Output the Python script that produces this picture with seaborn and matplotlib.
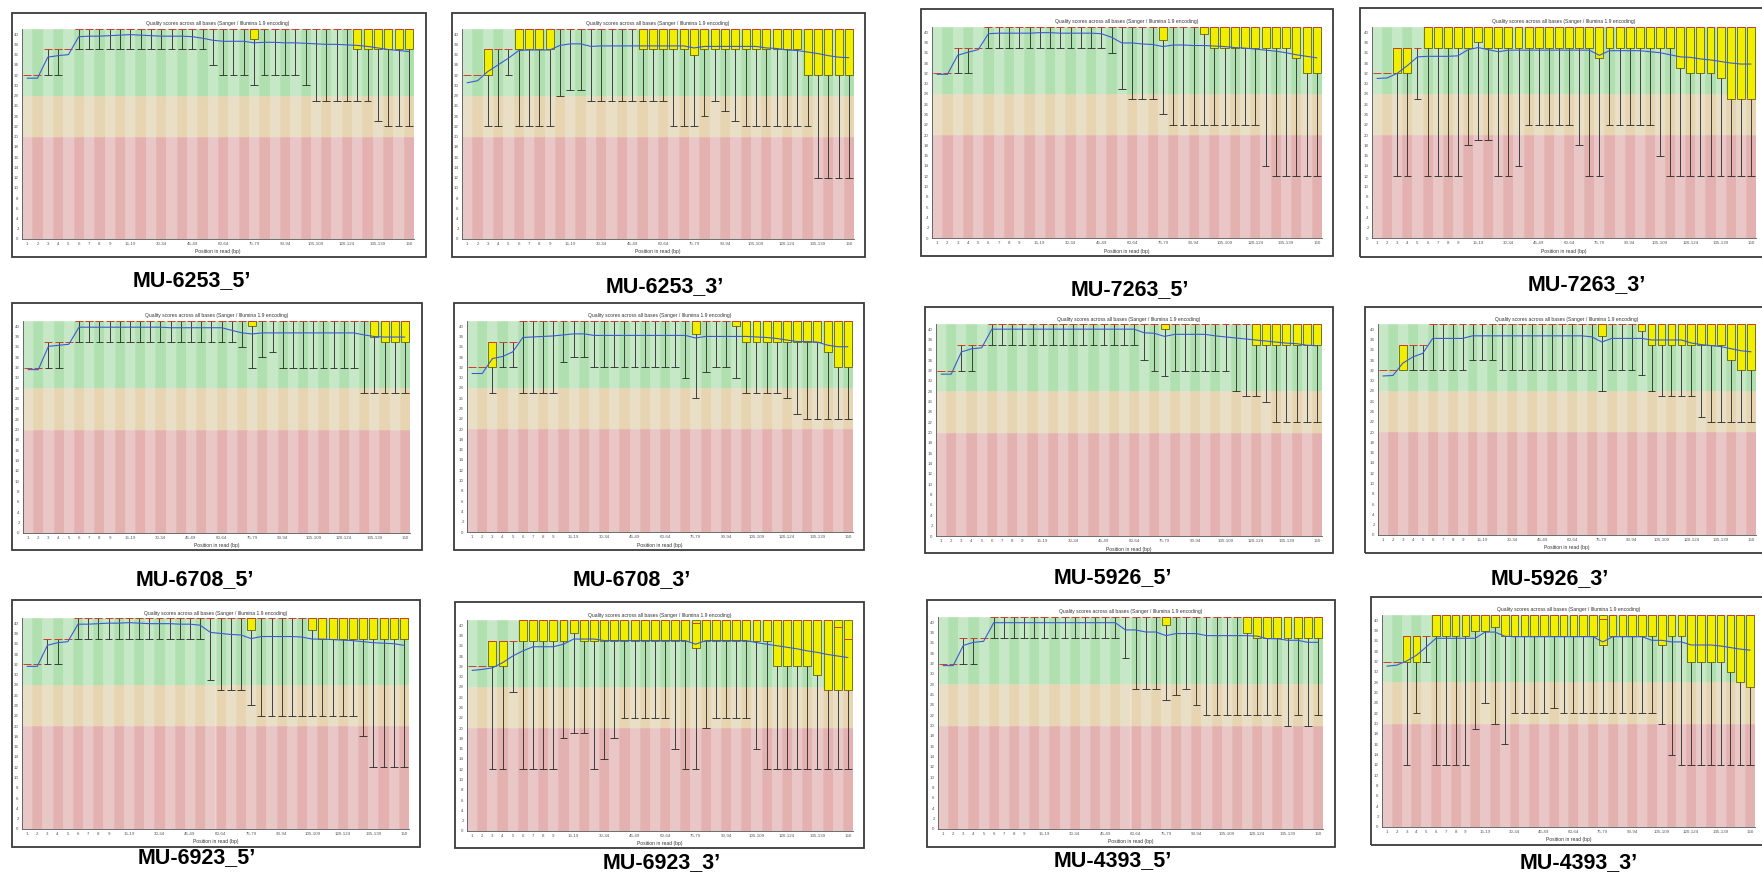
import matplotlib
matplotlib.use("Agg")
import matplotlib.pyplot as plt
from matplotlib.patches import Rectangle
import numpy as np
import seaborn as sns

# Position groups on the x axis (FastQC grouping for 150 bp reads)
positions = ["1", "2", "3", "4", "5", "6", "7", "8", "9",
             "10-14", "15-19", "20-24", "25-29", "30-34", "35-39", "40-44",
             "45-49", "50-54", "55-59", "60-64", "65-69", "70-74", "75-79",
             "80-84", "85-89", "90-94", "95-99", "100-104", "105-109",
             "110-114", "115-119", "120-124", "125-129", "130-134",
             "135-139", "140-144", "145-149", "150"]
tick_idx = [0, 1, 2, 3, 4, 5, 6, 7, 8, 10, 13, 16, 19, 22, 25, 28, 31, 34, 37]

# upper whisker / upper quartile (same in every sample)
top = [32, 32, 37, 37, 37] + [41] * 33

# MU-6253_5'
a_q1 = [32, 32, 37, 37, 37, 41, 41, 41, 41, 41, 41, 41, 41, 41, 41, 41, 41, 41,
        41, 41, 41, 41, 39, 41, 41, 41, 41, 41, 41, 41, 41, 41, 37, 37, 37, 37, 37, 37]
a_lo = [32, 32, 32, 32, 37, 37, 37, 37, 37, 37, 37, 37, 37, 37, 37, 37, 37, 37,
        34, 32, 32, 32, 30, 32, 32, 32, 32, 30, 27, 27, 27, 27, 27, 27, 23, 22, 22, 22]
a_mean = [31.4, 31.4, 35.5, 35.8, 36.0, 39.5, 39.6, 39.6, 39.7, 39.8, 39.9, 39.8, 39.7,
          39.6, 39.6, 39.6, 39.5, 39.2, 38.8, 38.6, 38.6, 38.6, 38.3, 38.4, 38.4, 38.3,
          38.3, 38.2, 38.1, 38.0, 38.0, 37.9, 37.8, 37.6, 37.3, 37.0, 36.8, 36.6]

# MU-6253_3'
b_q1 = [32, 32, 32, 37, 37, 37, 37, 37, 37, 41, 41, 41, 41, 41, 41, 41, 41, 37,
        37, 37, 37, 37, 36, 37, 37, 37, 37, 37, 37, 37, 37, 37, 37, 32, 32, 32, 32, 32]
b_lo = [32, 32, 22, 22, 32, 22, 22, 22, 22, 28, 29, 29, 27, 27, 27, 27, 27, 27,
        27, 27, 22, 22, 22, 24, 27, 25, 23, 22, 22, 22, 22, 22, 22, 22, 12, 12, 12, 12]
b_mean = [30.5, 30.9, 32.7, 34.0, 35.3, 36.8, 36.9, 36.9, 36.9, 37.8, 38.1, 38.1, 37.6,
          37.7, 37.7, 37.7, 37.7, 37.7, 37.7, 37.7, 37.7, 37.7, 37.3, 37.6, 37.6, 37.6,
          37.6, 37.6, 37.6, 37.3, 37.2, 36.9, 36.8, 36.5, 36.2, 35.8, 35.5, 35.4]

# MU-7263_5'
c_q1 = [32, 32, 37, 37, 37, 41, 41, 41, 41, 41, 41, 41, 41, 41, 41, 41, 41, 41,
        41, 41, 41, 41, 38.5, 41, 41, 41, 39.7, 37, 37, 37, 37, 37, 37, 37, 37, 35, 32, 32]
c_lo = [32, 32, 32, 32, 37, 37, 37, 37, 37, 37, 37, 37, 37, 37, 37, 37, 37, 36,
        29, 27, 27, 27, 24, 22, 22, 22, 22, 22, 22, 22, 22, 22, 14, 12, 12, 12, 12, 12]
c_mean = [31.8, 31.8, 35.5, 36.1, 36.6, 39.7, 39.8, 39.8, 39.8, 39.8, 39.9, 39.9, 39.8,
          39.8, 39.8, 39.8, 39.7, 39.0, 37.9, 37.9, 37.7, 37.6, 37.2, 37.5, 37.5, 37.4,
          37.4, 37.3, 37.2, 37.0, 36.9, 36.7, 36.5, 36.3, 36.0, 35.6, 35.3, 35.0]

# MU-7263_3'
d_q1 = [32, 32, 32, 32, 37, 37, 37, 37, 37, 37, 38, 37, 37, 37, 37, 37, 37, 37,
        37, 37, 37, 37, 35, 37, 37, 37, 37, 37, 37, 37, 33, 32, 32, 32, 31, 27, 27, 27]
d_lo = [32, 32, 12, 12, 27, 12, 12, 12, 12, 18, 19, 19, 12, 12, 14, 22, 22, 22,
        22, 22, 18, 12, 12, 22, 22, 22, 22, 22, 16, 12, 12, 12, 12, 12, 12, 12, 12, 12]
d_mean = [31.0, 31.1, 32.0, 33.5, 35.2, 35.3, 35.3, 35.3, 35.4, 36.6, 37.0, 36.6, 36.2,
          36.5, 36.5, 36.5, 36.5, 36.5, 36.5, 36.5, 36.5, 36.5, 35.5, 36.4, 36.4, 36.4,
          36.4, 36.2, 36.0, 35.6, 35.2, 35.1, 34.8, 34.6, 34.3, 34.0, 33.8, 33.8]

# MU-6708_5'
e_q1 = [32, 32, 37, 37, 37, 41, 41, 41, 41, 41, 41, 41, 41, 41, 41, 41, 41, 41,
        41, 41, 41, 41, 40, 41, 41, 41, 41, 41, 41, 41, 41, 41, 41, 41, 38, 37, 37, 37]
e_lo = [32, 32, 32, 32, 37, 37, 37, 37, 37, 37, 37, 37, 37, 37, 37, 37, 37, 37,
        37, 37, 37, 36, 32, 34, 35, 32, 32, 32, 32, 32, 32, 32, 32, 27, 27, 27, 27, 27]
e_mean = [31.6, 31.6, 36.1, 36.3, 36.5, 39.8, 39.8, 39.8, 39.8, 39.8, 39.8, 39.8, 39.8,
          39.8, 39.7, 39.7, 39.7, 39.7, 39.7, 39.7, 39.2, 38.7, 38.5, 38.7, 38.7, 38.7,
          38.7, 38.7, 38.7, 38.7, 38.7, 38.7, 38.7, 38.3, 38.0, 37.9, 37.9, 37.9]

# MU-6708_3'
f_q1 = [32, 32, 32, 37, 37, 41, 41, 41, 41, 41, 41, 41, 41, 41, 41, 41, 41, 41,
        41, 41, 41, 41, 38.5, 41, 41, 41, 40, 37, 37, 37, 37, 37, 37, 37, 37, 35, 32, 32]
f_lo = [32, 32, 27, 32, 32, 27, 27, 27, 27, 33, 34, 34, 32, 32, 32, 32, 32, 32,
        32, 32, 32, 30, 26, 31, 32, 32, 30, 27, 27, 27, 27, 26, 23, 22, 22, 22, 22, 22]
f_mean = [30.8, 30.8, 33.7, 34.1, 35.0, 37.8, 37.9, 38.0, 38.1, 38.3, 38.5, 38.5, 38.2,
          38.2, 38.2, 38.2, 38.2, 38.2, 38.2, 38.2, 38.2, 38.2, 37.7, 38.0, 38.0, 38.0,
          38.0, 38.0, 37.9, 37.8, 37.6, 37.3, 37.0, 37.0, 36.9, 36.3, 36.0, 36.0]

# MU-5926_5'
g_q1 = [32, 32, 37, 37, 37, 41, 41, 41, 41, 41, 41, 41, 41, 41, 41, 41, 41, 41,
        41, 41, 41, 41, 40, 41, 41, 41, 41, 41, 41, 41, 41, 37, 37, 37, 37, 37, 37, 37]
g_lo = [32, 32, 32, 32, 37, 37, 37, 37, 37, 37, 37, 37, 37, 37, 37, 37, 37, 37,
        37, 37, 34, 32, 31, 32, 32, 32, 32, 32, 32, 28, 27, 27, 26, 22, 22, 22, 22, 22]
g_mean = [31.3, 31.3, 35.6, 36.2, 36.4, 40.0, 40.0, 40.0, 40.0, 40.0, 40.0, 40.0, 40.0,
          40.0, 40.0, 40.0, 40.0, 40.0, 40.0, 40.0, 39.3, 39.2, 38.6, 39.0, 39.0, 39.0,
          39.0, 38.7, 38.5, 38.3, 38.1, 37.9, 37.7, 37.5, 37.3, 37.2, 36.9, 36.8]

# MU-5926_3'
h_q1 = [32, 32, 32, 37, 37, 41, 41, 41, 41, 41, 41, 41, 41, 41, 41, 41, 41, 41,
        41, 41, 41, 41, 38.6, 41, 41, 41, 39.6, 37, 37, 37, 37, 37, 37, 37, 37, 34, 32, 32]
h_lo = [32, 32, 32, 32, 32, 32, 32, 32, 32, 34, 34, 34, 32, 32, 32, 32, 32, 32,
        32, 32, 32, 32, 28, 32, 32, 32, 31, 28, 27, 27, 27, 27, 23, 22, 22, 22, 22, 22]
h_mean = [30.9, 31.0, 33.4, 34.6, 35.3, 38.2, 38.2, 38.2, 38.2, 38.7, 38.7, 38.7, 38.7,
          38.7, 38.7, 38.7, 38.7, 38.7, 38.7, 38.7, 38.7, 38.5, 37.5, 38.2, 38.2, 38.2,
          38.2, 37.9, 37.9, 37.9, 37.9, 37.3, 37.0, 36.8, 36.6, 36.2, 35.8, 35.6]

# MU-6923_5'
i_q1 = [32, 32, 37, 37, 37, 41, 41, 41, 41, 41, 41, 41, 41, 41, 41, 41, 41, 41,
        41, 41, 41, 41, 38.6, 41, 41, 41, 41, 41, 38.6, 37, 37, 37, 37, 37, 37, 37, 37, 37]
i_lo = [32, 32, 32, 32, 37, 37, 37, 37, 37, 37, 37, 37, 37, 37, 37, 37, 37, 37,
        29, 27, 27, 27, 24, 22, 22, 22, 22, 22, 22, 22, 22, 22, 22, 18, 12, 12, 12, 12]
i_mean = [31.6, 31.6, 35.7, 36.2, 36.4, 39.8, 39.8, 39.9, 40.0, 40.0, 40.1, 40.0, 39.9,
          39.9, 39.9, 39.8, 39.8, 39.6, 38.2, 38.0, 37.8, 37.7, 37.0, 37.4, 37.4, 37.4,
          37.4, 37.3, 36.9, 36.9, 36.8, 36.7, 36.6, 36.4, 36.2, 36.1, 36.0, 35.7]

# MU-6923_3'
j_q1 = [32, 32, 32, 32, 37, 37, 37, 37, 37, 37, 38.4, 37, 37, 37, 37, 37, 37, 37,
        37, 37, 37, 37, 35.5, 37, 37, 37, 37, 37, 37, 37, 32, 32, 32, 32, 30.4, 27.4, 27.4, 27.4]
j_lo = [32, 32, 12, 12, 27, 12, 12, 12, 12, 18, 19, 19, 12, 14, 18, 22, 22, 22,
        22, 22, 16, 12, 12, 20, 22, 22, 22, 22, 16, 12, 12, 12, 12, 12, 12, 12, 12, 12]
j_mean = [31.2, 31.4, 31.7, 32.7, 34.0, 35.0, 35.8, 35.8, 35.8, 36.3, 37.3, 37.3, 37.3,
          37.0, 37.0, 37.0, 37.0, 37.0, 37.0, 37.0, 37.0, 37.0, 36.3, 37.0, 37.0, 37.0,
          37.0, 37.0, 36.6, 36.3, 36.0, 35.7, 35.4, 35.0, 34.7, 34.3, 34.0, 33.7]
j_med = {22: 40.4, 36: 39.7, 37: 37.3}

# MU-4393_5'
k_q1 = [32, 32, 37, 37, 37, 41, 41, 41, 41, 41, 41, 41, 41, 41, 41, 41, 41, 41,
        41, 41, 41, 41, 39.5, 41, 41, 41, 41, 41, 41, 41, 38, 37, 37, 37, 37, 37, 37, 37]
k_lo = [32, 32, 32, 32, 37, 37, 37, 37, 37, 37, 37, 37, 37, 37, 37, 37, 37, 37,
        33, 27, 27, 27, 25, 26, 27, 24, 22, 22, 22, 22, 22, 22, 22, 22, 20, 22, 20, 22]
k_mean = [31.6, 31.6, 35.5, 36.1, 36.3, 39.9, 39.9, 39.9, 39.9, 39.9, 39.9, 39.9, 39.9,
          39.9, 39.9, 39.9, 39.9, 39.9, 38.5, 38.5, 38.1, 38.1, 37.4, 37.8, 37.8, 37.8,
          37.4, 37.4, 37.4, 37.4, 37.4, 37.3, 36.8, 36.8, 36.5, 36.5, 36.1, 36.1]

# MU-4393_3'
l_q1 = [32, 32, 32, 32, 37, 37, 37, 37, 37, 38, 38, 38.6, 37, 37, 37, 37, 37, 37,
        37, 37, 37, 37, 35.2, 37, 37, 37, 37, 37, 35.2, 37, 37, 32, 32, 32, 32, 30, 28, 27]
l_lo = [32, 32, 12, 22, 32, 12, 12, 12, 12, 19, 24, 20, 16, 22, 22, 22, 22, 23,
        22, 22, 22, 22, 22, 22, 22, 22, 22, 22, 20, 14, 12, 12, 12, 12, 12, 12, 12, 12]
l_mean = [31.1, 31.3, 32.1, 33.2, 34.8, 36.5, 36.5, 36.5, 36.5, 36.5, 37.7, 37.7, 36.9,
          36.8, 36.8, 36.8, 36.8, 36.8, 36.8, 36.8, 36.8, 36.8, 35.8, 36.8, 36.8, 36.8,
          36.8, 36.1, 36.1, 35.8, 35.8, 35.2, 35.2, 35.2, 35.0, 34.7, 34.4, 34.2]
l_med = {22: 40.3}

samples = ["MU-6253_5\u2019", "MU-6253_3\u2019", "MU-7263_5\u2019", "MU-7263_3\u2019",
           "MU-6708_5\u2019", "MU-6708_3\u2019", "MU-5926_5\u2019", "MU-5926_3\u2019",
           "MU-6923_5\u2019", "MU-6923_3\u2019", "MU-4393_5\u2019", "MU-4393_3\u2019"]

# layout in pixels: frame box, plot box (x0, y0, x1, y1) and sample label centre
layout = [
    ((12, 13, 426, 257), (22, 29, 414, 239), (192, 281)),
    ((452, 13, 865, 257), (462, 29, 854, 239), (665, 287)),
    ((921, 9, 1333, 256), (932, 27, 1322, 238), (1130, 290)),
    ((1360, 8, 1774, 257), (1372, 27, 1756, 238), (1587, 285)),
    ((12, 303, 422, 550), (23, 321, 410, 533), (195, 580)),
    ((454, 303, 864, 550), (467, 321, 853, 532), (632, 580)),
    ((925, 307, 1333, 553), (936, 324, 1322, 536), (1113, 578)),
    ((1365, 307, 1779, 553), (1378, 324, 1756, 535), (1550, 579)),
    ((12, 600, 420, 847), (22, 618, 409, 829), (197, 858)),
    ((455, 602, 864, 848), (467, 620, 853, 831), (662, 863)),
    ((927, 600, 1335, 847), (938, 617, 1323, 829), (1113, 861)),
    ((1371, 597, 1785, 845), (1382, 615, 1755, 827), (1579, 863)),
]

data = [
    (a_q1, a_lo, a_mean, {}), (b_q1, b_lo, b_mean, {}),
    (c_q1, c_lo, c_mean, {}), (d_q1, d_lo, d_mean, {}),
    (e_q1, e_lo, e_mean, {}), (f_q1, f_lo, f_mean, {}),
    (g_q1, g_lo, g_mean, {}), (h_q1, h_lo, h_mean, {}),
    (i_q1, i_lo, i_mean, {}), (j_q1, j_lo, j_mean, j_med),
    (k_q1, k_lo, k_mean, {}), (l_q1, l_lo, l_mean, l_med),
]

W, H = 1762, 876
sns.set_style("white")
plt.rcParams['font.family'] = ['Liberation Sans', 'DejaVu Sans']

fig = plt.figure(figsize=(W / 100, H / 100), dpi=100)
fig.patch.set_facecolor("white")

bands = [(28, 41, "#c6e8c6", "#b0dfb0"),
         (20, 28, "#e9dfc6", "#e6d5b0"),
         (0, 20, "#e9c7c7", "#e4b1b1")]

x = np.arange(len(positions))


def fx(px):
    return px / W


def fy(py):
    return 1 - py / H


for (q1, lo, mean, med_fix), ((bx0, by0, bx1, by1), (px0, py0, px1, py1), (lx, ly)), name in zip(data, layout, samples):
    # outer frame of the FastQC image
    fig.add_artist(Rectangle((fx(bx0), fy(by1)), fx(bx1 - bx0), (by1 - by0) / H,
                             transform=fig.transFigure, fill=False,
                             edgecolor="#3a3a3a", linewidth=1.3))

    ax = fig.add_axes([fx(px0), fy(py1), fx(px1 - px0), (py1 - py0) / H])

    # striped quality bands
    for b0, b1, c_light, c_dark in bands:
        cols = [c_light if i % 2 == 0 else c_dark for i in x]
        ax.bar(x, b1 - b0, bottom=b0, width=1.0, color=cols, edgecolor=cols,
               linewidth=0.4, zorder=0)

    q1 = np.array(q1, dtype=float)
    lo = np.array(lo, dtype=float)
    hi = np.array(top, dtype=float)
    med = hi.copy()
    for k, v in med_fix.items():
        med[k] = v

    # whiskers (10th - 90th percentile)
    ax.vlines(x, lo, hi, color="#262626", linewidth=0.6, zorder=2)
    has_wh = lo < q1
    ax.hlines(lo[has_wh], x[has_wh] - 0.38, x[has_wh] + 0.38, color="#262626",
              linewidth=0.6, zorder=2)

    # inter-quartile boxes
    box = q1 < hi
    ax.bar(x[box], hi[box] - q1[box], bottom=q1[box], width=0.78, color="#f2ee00",
           edgecolor="#4a4a00", linewidth=0.5, zorder=3)

    # medians
    ax.hlines(med, x - 0.39, x + 0.39, color="#d23a2a", linewidth=0.7, zorder=4)

    # mean line
    sns.lineplot(x=x, y=mean, ax=ax, color="#3b5bd6", linewidth=0.8, zorder=5)

    ax.set_xlim(-0.5, len(positions) - 0.5)
    ax.set_ylim(0, 41)
    ax.set_yticks(range(0, 41, 2))
    ax.set_yticklabels([str(v) for v in range(0, 41, 2)], fontsize=3.2, color="#333333")
    ax.set_xticks(tick_idx)
    ax.set_xticklabels([positions[i] for i in tick_idx], fontsize=3.2, color="#333333")
    ax.tick_params(length=1.2, width=0.4, pad=1.2, colors="#555555")
    for s in ["top", "right"]:
        ax.spines[s].set_visible(False)
    for s in ["left", "bottom"]:
        ax.spines[s].set_color("#555555")
        ax.spines[s].set_linewidth(0.6)

    fig.text(fx((px0 + px1) / 2), fy(py0 - 5),
             "Quality scores across all bases (Sanger / Illumina 1.9 encoding)",
             ha="center", va="center", fontsize=3.6, color="#333333")
    fig.text(fx((px0 + px1) / 2), fy(py1 + 13), "Position in read (bp)",
             ha="center", va="center", fontsize=3.6, color="#333333")

    fig.text(fx(lx), fy(ly), name, ha="center", va="center", fontsize=15.5,
             fontweight="bold", color="black")

fig.savefig("out.png", dpi=100, facecolor="white")
